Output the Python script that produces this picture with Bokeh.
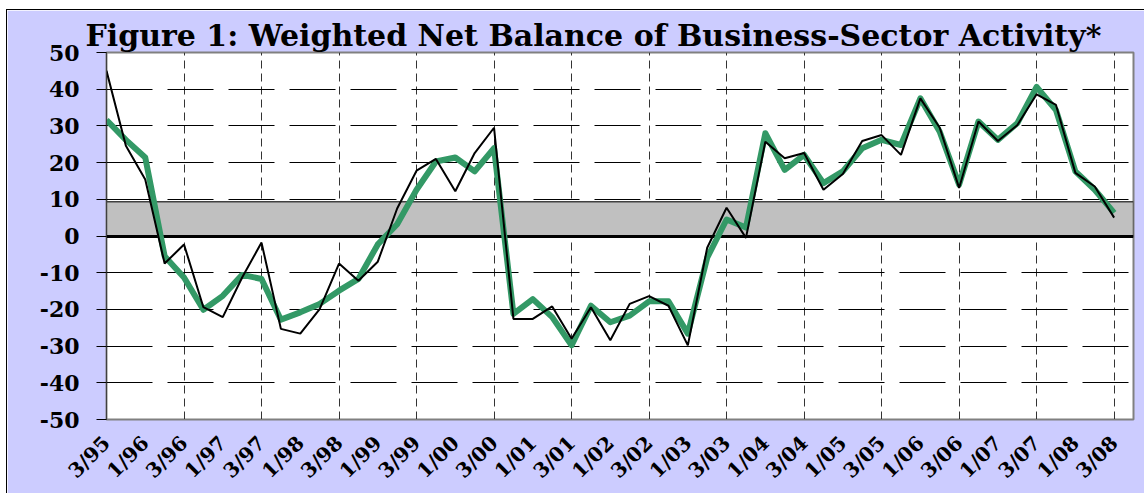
import math
from bokeh.plotting import figure
from bokeh.models import FixedTicker, Range1d
from bokeh.embed import file_html
from bokeh.resources import INLINE

# ---- data ----
quarters = list(range(53))  # 3/95 ... 3/08, quarterly
black_series = [45, 24.6, 15.4, -7.5, -2.3, -19.4, -22.1, -11.3, -1.8, -25.3,
                -26.6, -19.9, -7.5, -12.2, -7.0, 7.5, 17.8, 21.0, 12.2, 22.6,
                29.5, -22.6, -22.6, -19.2, -28.0, -19.4, -28.4, -18.5, -16.4, -19.0,
                -29.8, -3.2, 7.7, -0.5, 25.7, 21.2, 22.6, 12.6, 16.9, 25.9,
                27.5, 22.1, 37.5, 29.5, 13.1, 31.2, 25.9, 30.2, 38.6, 35.7,
                17.2, 13.5, 5.0]
green_series = [31.6, 26.2, 21.4, -5.5, -11.3, -20.1, -16.3, -10.6, -11.7, -22.8,
                -20.8, -18.5, -14.9, -11.7, -2.3, 3.2, 12.6, 20.3, 21.4, 17.6,
                23.9, -21.2, -17.2, -22.1, -29.8, -19.0, -23.5, -21.7, -17.8, -17.8,
                -26.6, -5.9, 4.5, 2.3, 28.0, 18.0, 22.1, 14.4, 17.6, 23.9,
                26.2, 24.8, 37.5, 28.4, 14.0, 31.2, 26.2, 30.7, 40.6, 34.3,
                17.6, 12.6, 6.3]
tick_labels = ["3/95", "1/96", "3/96", "1/97", "3/97", "1/98", "3/98", "1/99", "3/99",
               "1/00", "3/00", "1/01", "3/01", "1/02", "3/02", "1/03", "3/03", "1/04",
               "3/04", "1/05", "3/05", "1/06", "3/06", "1/07", "3/07", "1/08", "3/08"]
tick_positions = list(range(0, 53, 2))
grid_positions = list(range(4, 53, 4))
y_ticks = list(range(-50, 51, 10))
y_tick_labels = [str(v) for v in y_ticks]
band_low, band_high = 0, 9.3
x_start, x_end = 0, 53
y_start, y_end = -50, 50

SERIF = "DejaVu Serif"

p = figure(width=1138, height=484, output_backend="svg", toolbar_location=None,
           x_range=Range1d(x_start, x_end), y_range=Range1d(y_start, y_end),
           background_fill_color="white", border_fill_color="#CCCCFF",
           min_border_left=99, min_border_right=12, min_border_top=42,
           min_border_bottom=75, margin=(9, 0, 0, 6),
           styles={"border-top": "1px solid black", "border-left": "1px solid black"},
           title="Figure 1: Weighted Net Balance of Business-Sector Activity*")
p.outline_line_color = "#808080"
p.outline_line_width = 2

p.title.text_font = SERIF
p.title.text_font_size = "30px"
p.title.text_font_style = "bold"
p.title.text_color = "black"
p.title.align = "left"
p.title.offset = -21
p.title.standoff = 0

# grids
p.xgrid.ticker = FixedTicker(ticks=grid_positions)
p.xgrid.grid_line_color = "#333333"
p.xgrid.grid_line_dash = "8 5"
p.xgrid.grid_line_width = 1
p.ygrid.ticker = FixedTicker(ticks=y_ticks)
p.ygrid.grid_line_color = "black"
p.ygrid.grid_line_dash = "46 15"
p.ygrid.grid_line_width = 1

# y axis
p.yaxis.ticker = FixedTicker(ticks=y_ticks)
p.yaxis.major_label_overrides = {t: l for t, l in zip(y_ticks, y_tick_labels)}
p.yaxis.major_label_text_font = SERIF
p.yaxis.major_label_text_font_size = "22px"
p.yaxis.major_label_text_font_style = "bold"
p.yaxis.major_label_text_color = "black"
p.yaxis.major_tick_out = 10
p.yaxis.major_tick_in = 0
p.yaxis.minor_tick_out = 0
p.yaxis.minor_tick_in = 0
p.yaxis.major_label_standoff = 17
p.yaxis.axis_line_color = "#404040"
p.yaxis.major_tick_line_color = "black"

# x axis: rotated half-year labels
p.xaxis.ticker = FixedTicker(ticks=tick_positions)
p.xaxis.major_label_overrides = {t: l for t, l in zip(tick_positions, tick_labels)}
p.xaxis.major_label_orientation = math.pi / 4
p.xaxis.major_label_text_font = SERIF
p.xaxis.major_label_text_font_size = "20px"
p.xaxis.major_label_text_font_style = "bold"
p.xaxis.major_label_text_color = "black"
p.xaxis.major_tick_line_color = None
p.xaxis.minor_tick_line_color = None
p.xaxis.major_tick_out = 0
p.xaxis.major_tick_in = 0
p.xaxis.minor_tick_out = 0
p.xaxis.minor_tick_in = 0
p.xaxis.major_label_standoff = 20
p.xaxis.axis_line_color = "#808080"

# grey band
p.quad(left=[x_start], right=[x_end], bottom=[band_low], top=[band_high],
       fill_color="#C0C0C0", line_color="#404040", line_width=1.5)
p.hspan(y=[band_low], line_color="black", line_width=3)

# series
p.line(quarters, green_series, line_color="#339966", line_width=6, line_join="round")
p.line(quarters, black_series, line_color="black", line_width=2)

open("out.html", "w").write(file_html(p, INLINE))
